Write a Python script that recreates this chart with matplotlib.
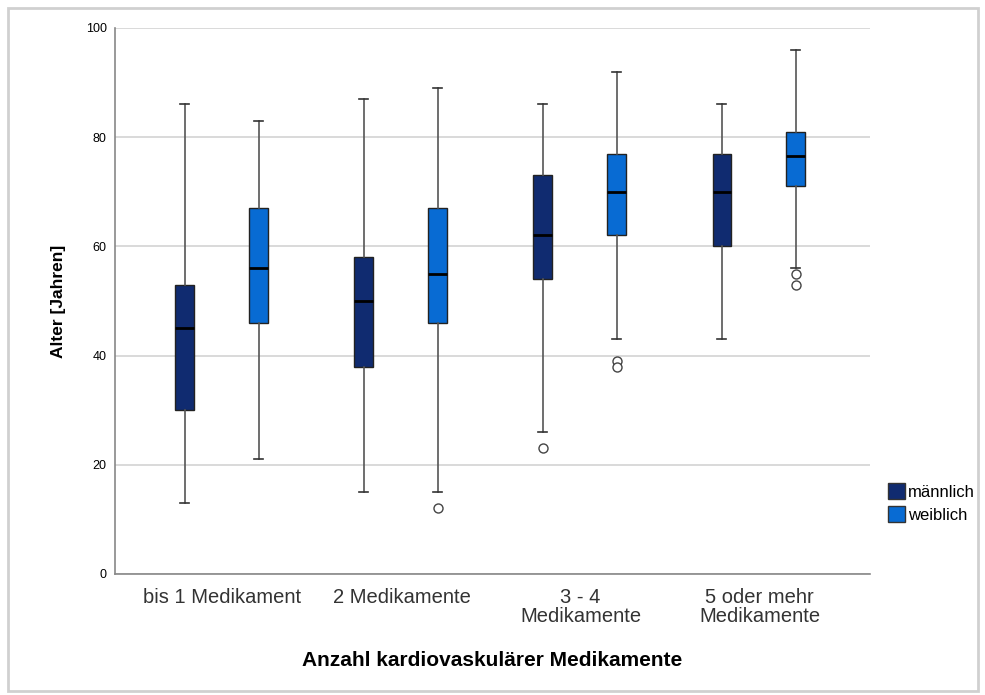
import matplotlib
matplotlib.use('Agg')
import matplotlib.pyplot as plt
from matplotlib.patches import Patch, Rectangle

plt.rcParams['font.family'] = ['Liberation Sans', 'DejaVu Sans']

# Kategorien und Gruppen
categories = ['bis 1 Medikament', '2 Medikamente', '3 - 4\nMedikamente', '5 oder mehr\nMedikamente']
groups = ['männlich', 'weiblich']
colors = ['#102B70', '#086BD3']

# Boxplot-Kennwerte
male_whislo = [13, 15, 26, 43]
male_q1 = [30, 38, 54, 60]
male_med = [45, 50, 62, 70]
male_q3 = [53, 58, 73, 77]
male_whishi = [86, 87, 86, 86]
male_fliers = [[], [], [23], []]

female_whislo = [21, 15, 43, 56]
female_q1 = [46, 46, 62, 71]
female_med = [56, 55, 70, 76.5]
female_q3 = [67, 67, 77, 81]
female_whishi = [83, 89, 92, 96]
female_fliers = [[], [12], [39, 38], [55, 53]]

yticks = [0, 20, 40, 60, 80, 100]


def make_stats(lo, q1, med, q3, hi, fl):
    return [dict(whislo=lo[i], q1=q1[i], med=med[i], q3=q3[i], whishi=hi[i], fliers=fl[i])
            for i in range(len(lo))]


fig = plt.figure(figsize=(9.85, 6.95), dpi=100)
ax = fig.add_axes([115 / 985, 1 - 574 / 695, 755 / 985, 546 / 695])

stats = [make_stats(male_whislo, male_q1, male_med, male_q3, male_whishi, male_fliers),
         make_stats(female_whislo, female_q1, female_med, female_q3, female_whishi, female_fliers)]
offsets = [-0.21, 0.203]

for g in range(2):
    pos = [i + offsets[g] for i in range(len(categories))]
    ax.bxp(stats[g], positions=pos, widths=0.105, patch_artist=True, showfliers=True,
           boxprops=dict(facecolor=colors[g], edgecolor='#222222', linewidth=1),
           medianprops=dict(color='black', linewidth=2),
           whiskerprops=dict(color='#555555', linewidth=1.2),
           capprops=dict(color='#333333', linewidth=1.2),
           capwidths=0.05,
           flierprops=dict(marker='o', markerfacecolor='white', markeredgecolor='#444444',
                           markersize=6.5, markeredgewidth=1))

ax.set_xlim(-0.60, 3.617)
ax.set_ylim(0, 100)
ax.set_yticks(yticks)
ax.set_yticklabels([str(t) for t in yticks], fontsize=9)
ax.set_xticks(range(len(categories)))
ax.set_xticklabels(categories, fontsize=14.5, color='#333333', linespacing=1.0)
ax.tick_params(axis='both', length=0, pad=6)
ax.tick_params(axis='x', pad=10)
ax.yaxis.grid(True, color='#d3d3d3', linewidth=1.2)
ax.set_axisbelow(True)
for s in ['top', 'right']:
    ax.spines[s].set_visible(False)
for s in ['left', 'bottom']:
    ax.spines[s].set_color('#888888')
    ax.spines[s].set_linewidth(1.2)

ax.set_xlabel('Anzahl kardiovaskulärer Medikamente', fontsize=15, fontweight='bold', labelpad=18)
ax.set_ylabel('Alter [Jahren]', fontsize=12.5, fontweight='bold', labelpad=14)

handles = [Patch(facecolor=colors[g], edgecolor='#333333', label=groups[g]) for g in range(2)]
fig.legend(handles=handles, loc='center left', bbox_to_anchor=(888 / 985, 1 - 503 / 695),
           frameon=False, fontsize=12, handlelength=1.0, handleheight=1.1,
           handletextpad=0.2, labelspacing=0.35, borderaxespad=0, borderpad=0)

# leichter Rahmen um das Bild
fig.patches.append(Rectangle((8 / 985, 4 / 695), 970 / 985, 683 / 695, transform=fig.transFigure,
                             fill=False, edgecolor='#d0d0d0', linewidth=2))

fig.savefig('out.png', dpi=100)
